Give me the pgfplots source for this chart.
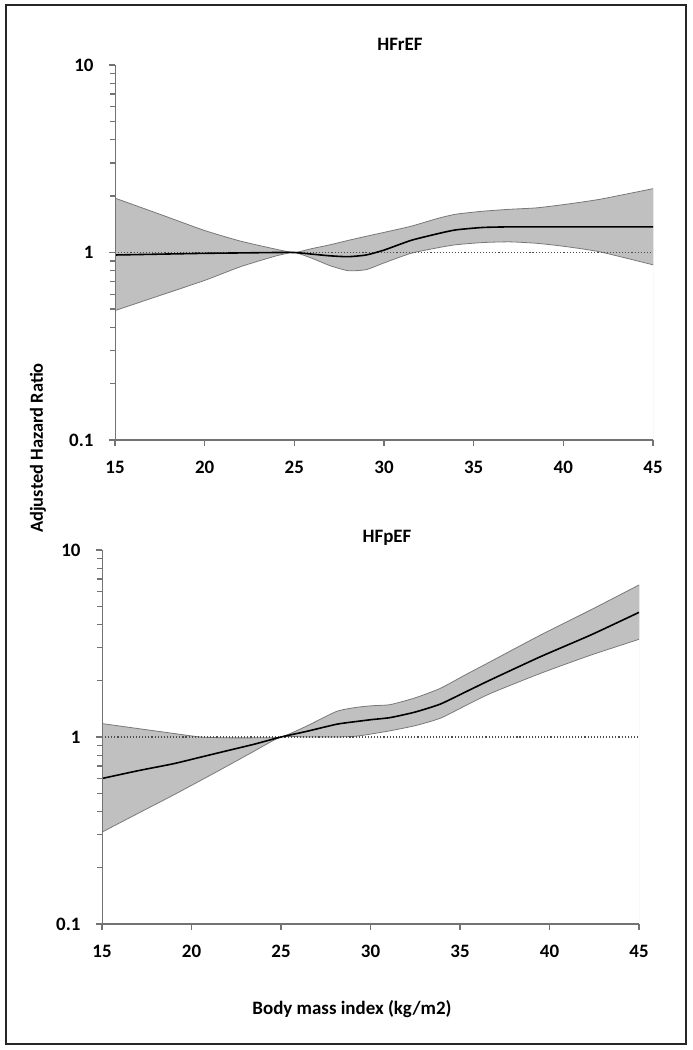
\documentclass[border=0pt]{standalone}
\usepackage{fontspec}
\setmainfont{Carlito}
\usepackage{pgfplots}
\usepackage{pgfplotstable}
\pgfplotsset{compat=1.18}
\definecolor{band}{RGB}{192,192,192}
\definecolor{bandedge}{RGB}{120,120,120}
\definecolor{axgray}{RGB}{115,115,115}

\pgfplotstableread{
x    lo    mid   hi
15   0.49  0.97  1.95
17.5 0.59  0.98  1.60
20   0.71  0.99  1.31
22   0.84  0.995 1.15
24   0.96  1.00  1.04
25   1.00  1.00  1.00
26   0.93  0.98  1.05
27   0.85  0.96  1.10
28   0.80  0.95  1.16
29   0.81  0.97  1.22
30   0.88  1.03  1.28
31.5 0.99  1.16  1.38
33   1.06  1.26  1.52
34   1.10  1.32  1.60
35.5 1.13  1.36  1.66
37   1.14  1.37  1.70
38.5 1.12  1.37  1.73
40   1.08  1.37  1.80
42   1.01  1.37  1.92
45   0.86  1.37  2.19
}\hfref

\pgfplotstableread{
x    lo    mid   hi
15   0.31  0.60  1.18
17   0.39  0.66  1.11
19   0.49  0.72  1.045
20.5 0.585 0.78  1.00
22   0.70  0.845 0.99
23.5 0.84  0.915 0.99
25   1.00  1.00  1.00
26.4 1.00  1.07  1.14
28.1 1.00  1.17  1.37
29.2 1.01  1.21  1.44
30.1 1.04  1.24  1.47
31.1 1.08  1.27  1.49
32.5 1.15  1.36  1.62
33.9 1.26  1.50  1.82
35.3 1.47  1.74  2.15
36.7 1.71  2.02  2.53
39.5 2.19  2.69  3.51
42.3 2.74  3.51  4.78
45   3.33  4.64  6.50
}\hfpef

\begin{document}
\begin{tikzpicture}
\useasboundingbox (0,0) rectangle (693bp,-1050bp);
\draw[line width=2.2bp, black!85] (6bp,-5bp) rectangle (686bp,-1044bp);

% Top panel
\begin{axis}[at={(115bp,-440bp)}, anchor=south west, width=538bp, height=375bp,
    ymode=log, scale only axis, axis on top,
    xmin=15, xmax=45, ymin=0.1, ymax=10,
    axis line style={draw=none},
    xtick pos=bottom, ytick pos=left,
    xtick={15,20,25,30,35,40,45}, xticklabels={15,20,25,30,35,40,45},
    ytick={0.1,1,10}, yticklabels={0.1,1,10},
    minor ytick={0.2,0.3,0.4,0.5,0.6,0.7,0.8,0.9,2,3,4,5,6,7,8,9},
    tick align=outside, xtick align=outside, ytick align=outside,
    major tick length=6bp, minor tick length=5bp,
    tick style={axgray, line width=1.2bp},
    tick label style={font=\fontsize{19}{19}\selectfont\bfseries, black},
    xticklabel style={yshift=-12bp}, yticklabel style={xshift=-12bp}]
  \addplot[fill=band, draw=none, smooth, tension=0.35] table[x=x, y=hi] {\hfref} -- (rel axis cs:1,0) -- (rel axis cs:0,0) -- cycle;
  \addplot[fill=white, draw=none, smooth, tension=0.35] table[x=x, y=lo] {\hfref} -- (rel axis cs:1,0) -- (rel axis cs:0,0) -- cycle;
  \addplot[bandedge, line width=0.8bp, smooth, tension=0.35] table[x=x, y=hi] {\hfref};
  \addplot[bandedge, line width=0.8bp, smooth, tension=0.35] table[x=x, y=lo] {\hfref};
  \addplot[bandedge, line width=0.8bp] coordinates {(45,0.86) (45,2.19)};
  \addplot[black!70, dotted, line width=1.1bp] coordinates {(15,1) (45,1)};
  \addplot[black, line width=1.6bp, smooth, tension=0.35] table[x=x, y=mid] {\hfref};
  \draw[axgray, line width=1.4bp] (rel axis cs:0,1) -- (rel axis cs:0,0) -- (rel axis cs:1,0);
\end{axis}

% Bottom panel
\begin{axis}[at={(102bp,-924bp)}, anchor=south west, width=537bp, height=374bp,
    ymode=log, scale only axis, axis on top,
    xmin=15, xmax=45, ymin=0.1, ymax=10,
    axis line style={draw=none},
    xtick pos=bottom, ytick pos=left,
    xtick={15,20,25,30,35,40,45}, xticklabels={15,20,25,30,35,40,45},
    ytick={0.1,1,10}, yticklabels={0.1,1,10},
    minor ytick={0.2,0.3,0.4,0.5,0.6,0.7,0.8,0.9,2,3,4,5,6,7,8,9},
    tick align=outside, xtick align=outside, ytick align=outside,
    major tick length=6bp, minor tick length=5bp,
    tick style={axgray, line width=1.2bp},
    tick label style={font=\fontsize{19}{19}\selectfont\bfseries, black},
    xticklabel style={yshift=-12bp}, yticklabel style={xshift=-12bp}]
  \addplot[fill=band, draw=none, smooth, tension=0.35] table[x=x, y=hi] {\hfpef} -- (rel axis cs:1,0) -- (rel axis cs:0,0) -- cycle;
  \addplot[fill=white, draw=none, smooth, tension=0.35] table[x=x, y=lo] {\hfpef} -- (rel axis cs:1,0) -- (rel axis cs:0,0) -- cycle;
  \addplot[bandedge, line width=0.8bp, smooth, tension=0.35] table[x=x, y=hi] {\hfpef};
  \addplot[bandedge, line width=0.8bp, smooth, tension=0.35] table[x=x, y=lo] {\hfpef};
  \addplot[bandedge, line width=0.8bp] coordinates {(45,3.33) (45,6.50)};
  \addplot[black!70, dotted, line width=1.1bp] coordinates {(15,1) (45,1)};
  \addplot[black, line width=1.6bp, smooth, tension=0.35] table[x=x, y=mid] {\hfpef};
  \draw[axgray, line width=1.4bp] (rel axis cs:0,1) -- (rel axis cs:0,0) -- (rel axis cs:1,0);
\end{axis}

\node[font=\fontsize{19}{19}\selectfont\bfseries] at (400bp,-44bp) {HFrEF};
\node[font=\fontsize{19}{19}\selectfont\bfseries] at (387bp,-538bp) {HFpEF};
\node[rotate=90, font=\fontsize{18.5}{18.5}\selectfont\bfseries] at (38bp,-448bp) {Adjusted Hazard Ratio};
\node[font=\fontsize{19}{19}\selectfont\bfseries] at (352bp,-1009bp) {Body mass index (kg/m2)};
\end{tikzpicture}
\end{document}
